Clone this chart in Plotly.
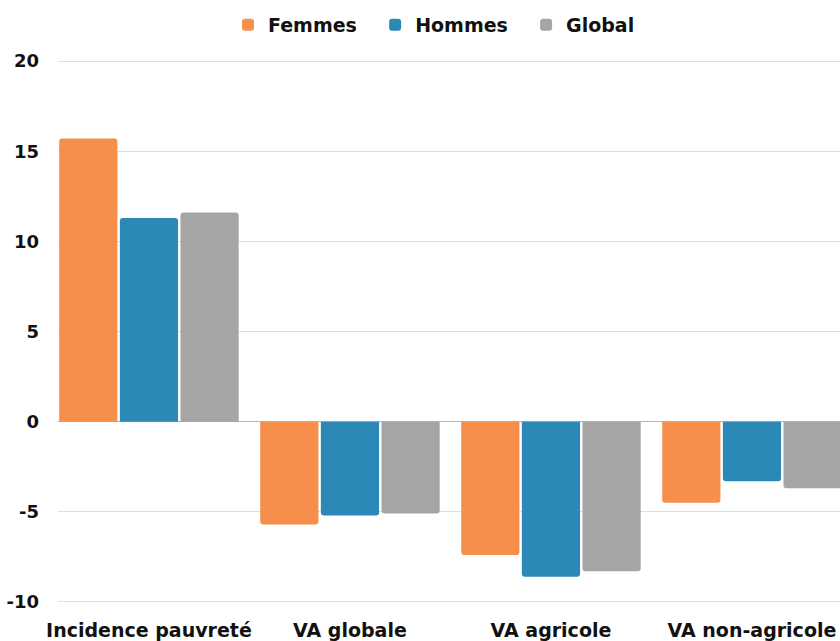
import plotly.graph_objects as go

categories = ["Incidence pauvreté", "VA globale", "VA agricole", "VA non-agricole"]
femmes = [15.7, -5.7, -7.4, -4.5]
hommes = [11.3, -5.2, -8.6, -3.3]
global_ = [11.6, -5.1, -8.3, -3.7]
series_names = ["Femmes", "Hommes", "Global"]
colors = ["#F58F4B", "#2B88B7", "#A5A5A5"]
y_tickvals = [-10, -5, 0, 5, 10, 15, 20]
y_ticktext = ["-10", "-5", "0", "5", "10", "15", "20"]

FONT = "DejaVu Sans"
PAD = "\u00a0\u00a0"  # extra spacing between legend entries

fig = go.Figure()
for i, (name, vals, col) in enumerate(zip(series_names, [femmes, hommes, global_], colors)):
    label = name + (PAD if i < len(series_names) - 1 else "")
    fig.add_trace(go.Bar(
        x=categories, y=vals, name=label,
        marker=dict(color=col, cornerradius=3, line=dict(width=0)),
    ))

fig.update_layout(
    width=840, height=641,
    margin=dict(l=58, r=0, t=60, b=38),
    paper_bgcolor="white", plot_bgcolor="white",
    barmode="group", bargap=0.095, bargroupgap=0.04,
    font=dict(family=FONT, color="#111111"),
    showlegend=True,
    legend=dict(
        orientation="h", x=0.5 + 14 / 840, xanchor="center", xref="container",
        y=1 - 25 / 641, yanchor="middle", yref="container",
        font=dict(family=FONT, size=19, color="#111111", weight="bold"),
        itemwidth=30, traceorder="normal",
    ),
    xaxis=dict(
        type="category", range=[-0.4525, 3.438],
        showgrid=False, showline=False, zeroline=False,
        ticks="", tickfont=dict(family=FONT, size=19, weight="bold"),
        ticklabelstandoff=14,
    ),
    yaxis=dict(
        range=[-10.06, 20.06], tickvals=y_tickvals, ticktext=y_ticktext,
        showgrid=True, gridcolor="#DEDEDE", gridwidth=1,
        zeroline=True, zerolinecolor="#B5B5B5", zerolinewidth=1,
        showline=False, ticks="",
        tickfont=dict(family=FONT, size=18, weight="bold"),
        ticklabelstandoff=18,
    ),
)

fig.write_html("out.html")
